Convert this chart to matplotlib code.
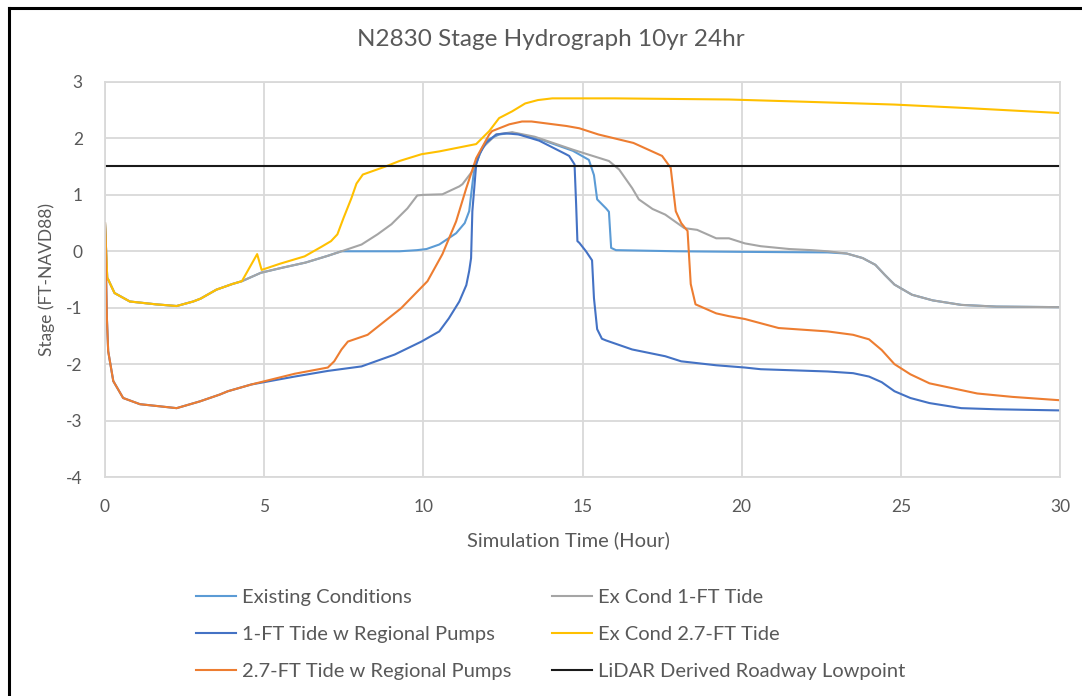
import numpy as np
import matplotlib.pyplot as plt
from matplotlib.lines import Line2D

plt.rcParams['font.family'] = ['Lato', 'DejaVu Sans']
plt.rcParams['axes.unicode_minus'] = False

# tramo inicial comun (condiciones existentes / marea sin bombas)
t_ini_sup = [0, 0.07, 0.1, 0.3, 0.78, 1.6, 2.25, 2.77, 3.0, 3.5, 4.0, 4.3]
h_ini_sup = [0.5, -0.47, -0.5, -0.74, -0.89, -0.94, -0.97, -0.89, -0.84, -0.68, -0.58, -0.53]

# tramo inicial comun (con bombas regionales)
t_ini_inf = [0, 0.06, 0.1, 0.26, 0.57, 1.1, 1.6, 2.25, 2.98, 3.6, 3.86, 4.6]
h_ini_inf = [0.5, -1.19, -1.77, -2.3, -2.6, -2.71, -2.74, -2.78, -2.66, -2.54, -2.48, -2.36]

t_sube = [4.9, 5.5, 6.3, 7.0, 7.43]
h_sube = [-0.38, -0.3, -0.2, -0.08, 0.0]

t_cola = [23.3, 23.8, 24.2, 24.5, 24.8, 25.35, 26.0, 26.9, 28.0, 30.0]
h_cola = [-0.04, -0.12, -0.24, -0.42, -0.59, -0.77, -0.87, -0.95, -0.98, -0.99]

t_existente = [8.0, 9.25, 9.8, 10.1, 10.5, 11.03, 11.3, 11.44, 11.6, 11.85, 12.0, 12.38,
               12.8, 13.6, 14.0, 14.7, 15.2, 15.36, 15.46, 15.74, 15.83, 15.9, 16.05,
               18.0, 20.0, 22.7]
h_existente = [0.0, 0.0, 0.02, 0.04, 0.12, 0.32, 0.5, 0.71, 1.47, 1.83, 1.97, 2.07,
               2.1, 2.0, 1.92, 1.78, 1.62, 1.35, 0.92, 0.76, 0.7, 0.06, 0.02,
               0.0, -0.01, -0.02]

t_marea1 = [8.06, 8.56, 9.0, 9.5, 9.81, 10.0, 10.6, 11.13, 11.23, 11.54, 11.85, 12.29,
            12.79, 13.5, 14.7, 15.83, 16.15, 16.56, 16.77, 17.2, 17.6, 18.2, 18.6,
            19.2, 19.6, 20.1, 20.6, 21.5, 22.2, 22.7]
h_marea1 = [0.12, 0.3, 0.48, 0.76, 0.99, 1.0, 1.01, 1.15, 1.19, 1.42, 1.83, 2.07,
            2.11, 2.03, 1.8, 1.6, 1.45, 1.12, 0.92, 0.75, 0.65, 0.41, 0.38,
            0.23, 0.23, 0.14, 0.09, 0.04, 0.02, 0.0]

t_bombas1 = [5.96, 7.0, 8.06, 9.1, 9.94, 10.5, 10.8, 11.13, 11.35, 11.44, 11.5, 11.54,
             11.6, 11.66, 11.76, 11.97, 12.29, 12.6, 13.0, 13.64, 14.48, 14.58, 14.75,
             14.8, 14.84, 14.9, 15.11, 15.3, 15.36, 15.46, 15.61, 15.74, 16.56, 17.6,
             18.1, 19.2, 20.1, 20.6, 22.7, 23.5, 24.0, 24.4, 24.8, 25.3, 25.9, 26.9,
             28.0, 30.0]
h_bombas1 = [-2.22, -2.12, -2.04, -1.83, -1.6, -1.42, -1.19, -0.89, -0.6, -0.35, -0.12, 0.71,
             1.12, 1.54, 1.72, 1.92, 2.07, 2.09, 2.07, 1.96, 1.72, 1.69, 1.54,
             0.83, 0.18, 0.15, 0.0, -0.16, -0.83, -1.38, -1.55, -1.58, -1.74, -1.86,
             -1.95, -2.02, -2.06, -2.09, -2.13, -2.16, -2.22, -2.32, -2.48, -2.6, -2.69, -2.78,
             -2.8, -2.82]

t_marea27 = [4.78, 4.92, 5.5, 6.27, 6.8, 7.1, 7.3, 7.5, 7.74, 7.9, 8.1, 8.8, 9.25, 9.94,
             10.5, 11.66, 12.07, 12.38, 12.79, 13.2, 13.6, 14.05, 16.0, 19.6, 22.0,
             24.8, 27.0, 30.0]
h_marea27 = [-0.05, -0.33, -0.22, -0.09, 0.08, 0.18, 0.3, 0.6, 0.94, 1.2, 1.36, 1.5, 1.6, 1.72,
             1.77, 1.9, 2.13, 2.36, 2.48, 2.62, 2.68, 2.71, 2.71, 2.69, 2.65,
             2.6, 2.54, 2.45]

t_bombas27 = [5.96, 7.0, 7.2, 7.43, 7.63, 8.25, 9.3, 10.13, 10.6, 11.03, 11.35, 11.66, 12.07,
              12.16, 12.7, 13.1, 13.4, 14.5, 14.9, 15.5, 16.6, 17.5, 17.77, 17.93, 18.1,
              18.3, 18.4, 18.55, 19.2, 19.6, 20.1, 21.16, 22.7, 23.5, 24.0, 24.4, 24.8,
              25.3, 25.9, 27.4, 28.5, 30.0]
h_bombas27 = [-2.17, -2.06, -1.95, -1.74, -1.6, -1.48, -1.01, -0.53, -0.05, 0.53, 1.12, 1.65, 2.07,
              2.13, 2.25, 2.3, 2.3, 2.22, 2.18, 2.07, 1.92, 1.69, 1.48, 0.71, 0.5,
              0.36, -0.58, -0.94, -1.1, -1.15, -1.2, -1.36, -1.42, -1.48, -1.56, -1.75, -2.0,
              -2.18, -2.34, -2.52, -2.58, -2.64]

t_lidar = [0, 30]
h_lidar = [1.52, 1.52]

series = [
    ("Existing Conditions", t_ini_sup + t_sube + t_existente + t_cola,
     h_ini_sup + h_sube + h_existente + h_cola, "#5B9BD5"),
    ("Ex Cond 1-FT Tide", t_ini_sup + t_sube + t_marea1 + t_cola,
     h_ini_sup + h_sube + h_marea1 + h_cola, "#A5A5A5"),
    ("1-FT Tide w Regional Pumps", t_ini_inf + t_bombas1,
     h_ini_inf + h_bombas1, "#4472C4"),
    ("Ex Cond 2.7-FT Tide", t_ini_sup + t_marea27,
     h_ini_sup + h_marea27, "#FFC000"),
    ("2.7-FT Tide w Regional Pumps", t_ini_inf + t_bombas27,
     h_ini_inf + h_bombas27, "#ED7D31"),
    ("LiDAR Derived Roadway Lowpoint", t_lidar, h_lidar, "#1A1A1A"),
]

fig = plt.figure(figsize=(10.82, 6.96), dpi=100)
ax = fig.add_axes([105 / 1082, 1 - 477 / 696, 955 / 1082, 395 / 696])

lineas = []
for nombre, t, h, color in series:
    l, = ax.plot(t, h, color=color, lw=1.5, label=nombre)
    lineas.append(l)

gris = "#595959"
ax.set_xlim(0, 30)
ax.set_ylim(-4, 3)
ax.set_xticks(np.arange(0, 31, 5))
ax.set_yticks(np.arange(-4, 4, 1))
ax.grid(True, color="#D9D9D9", lw=1.3)
ax.set_axisbelow(True)
for s in ax.spines.values():
    s.set_color("#D9D9D9")
    s.set_linewidth(1.3)
ax.tick_params(length=0, labelsize=12.5, labelcolor=gris, pad=16)

fig.text(551 / 1082, 1 - 39 / 696, "N2830 Stage Hydrograph 10yr 24hr", fontsize=17.5,
         color=gris, ha="center", va="center")
ax.set_xlabel("Simulation Time (Hour)", fontsize=14.5, color=gris, va="center")
ax.xaxis.set_label_coords((568 - 105) / 955, -(540 - 477) / 395)
ax.set_ylabel("Stage (FT-NAVD88)", fontsize=12.5, color=gris, labelpad=8)

# leyenda en dos columnas, ordenada por filas
orden = [0, 2, 4, 1, 3, 5]
fig.legend([lineas[i] for i in orden], [series[i][0] for i in orden],
           loc="upper left", bbox_to_anchor=(178 / 1082, 1 - 571 / 696), ncol=2,
           frameon=False, fontsize=14.5, handlelength=2.0, handletextpad=0.3,
           columnspacing=2.0, labelspacing=0.98, labelcolor=gris)

# borde exterior del grafico
fig.add_artist(Line2D([9 / 1082, 9 / 1082], [0, 1 - 8 / 696], color="black", lw=2.2,
                      transform=fig.transFigure))
fig.add_artist(Line2D([9 / 1082, 1], [1 - 8 / 696, 1 - 8 / 696], color="black", lw=2.2,
                      transform=fig.transFigure))

fig.savefig("out.png", dpi=100)
